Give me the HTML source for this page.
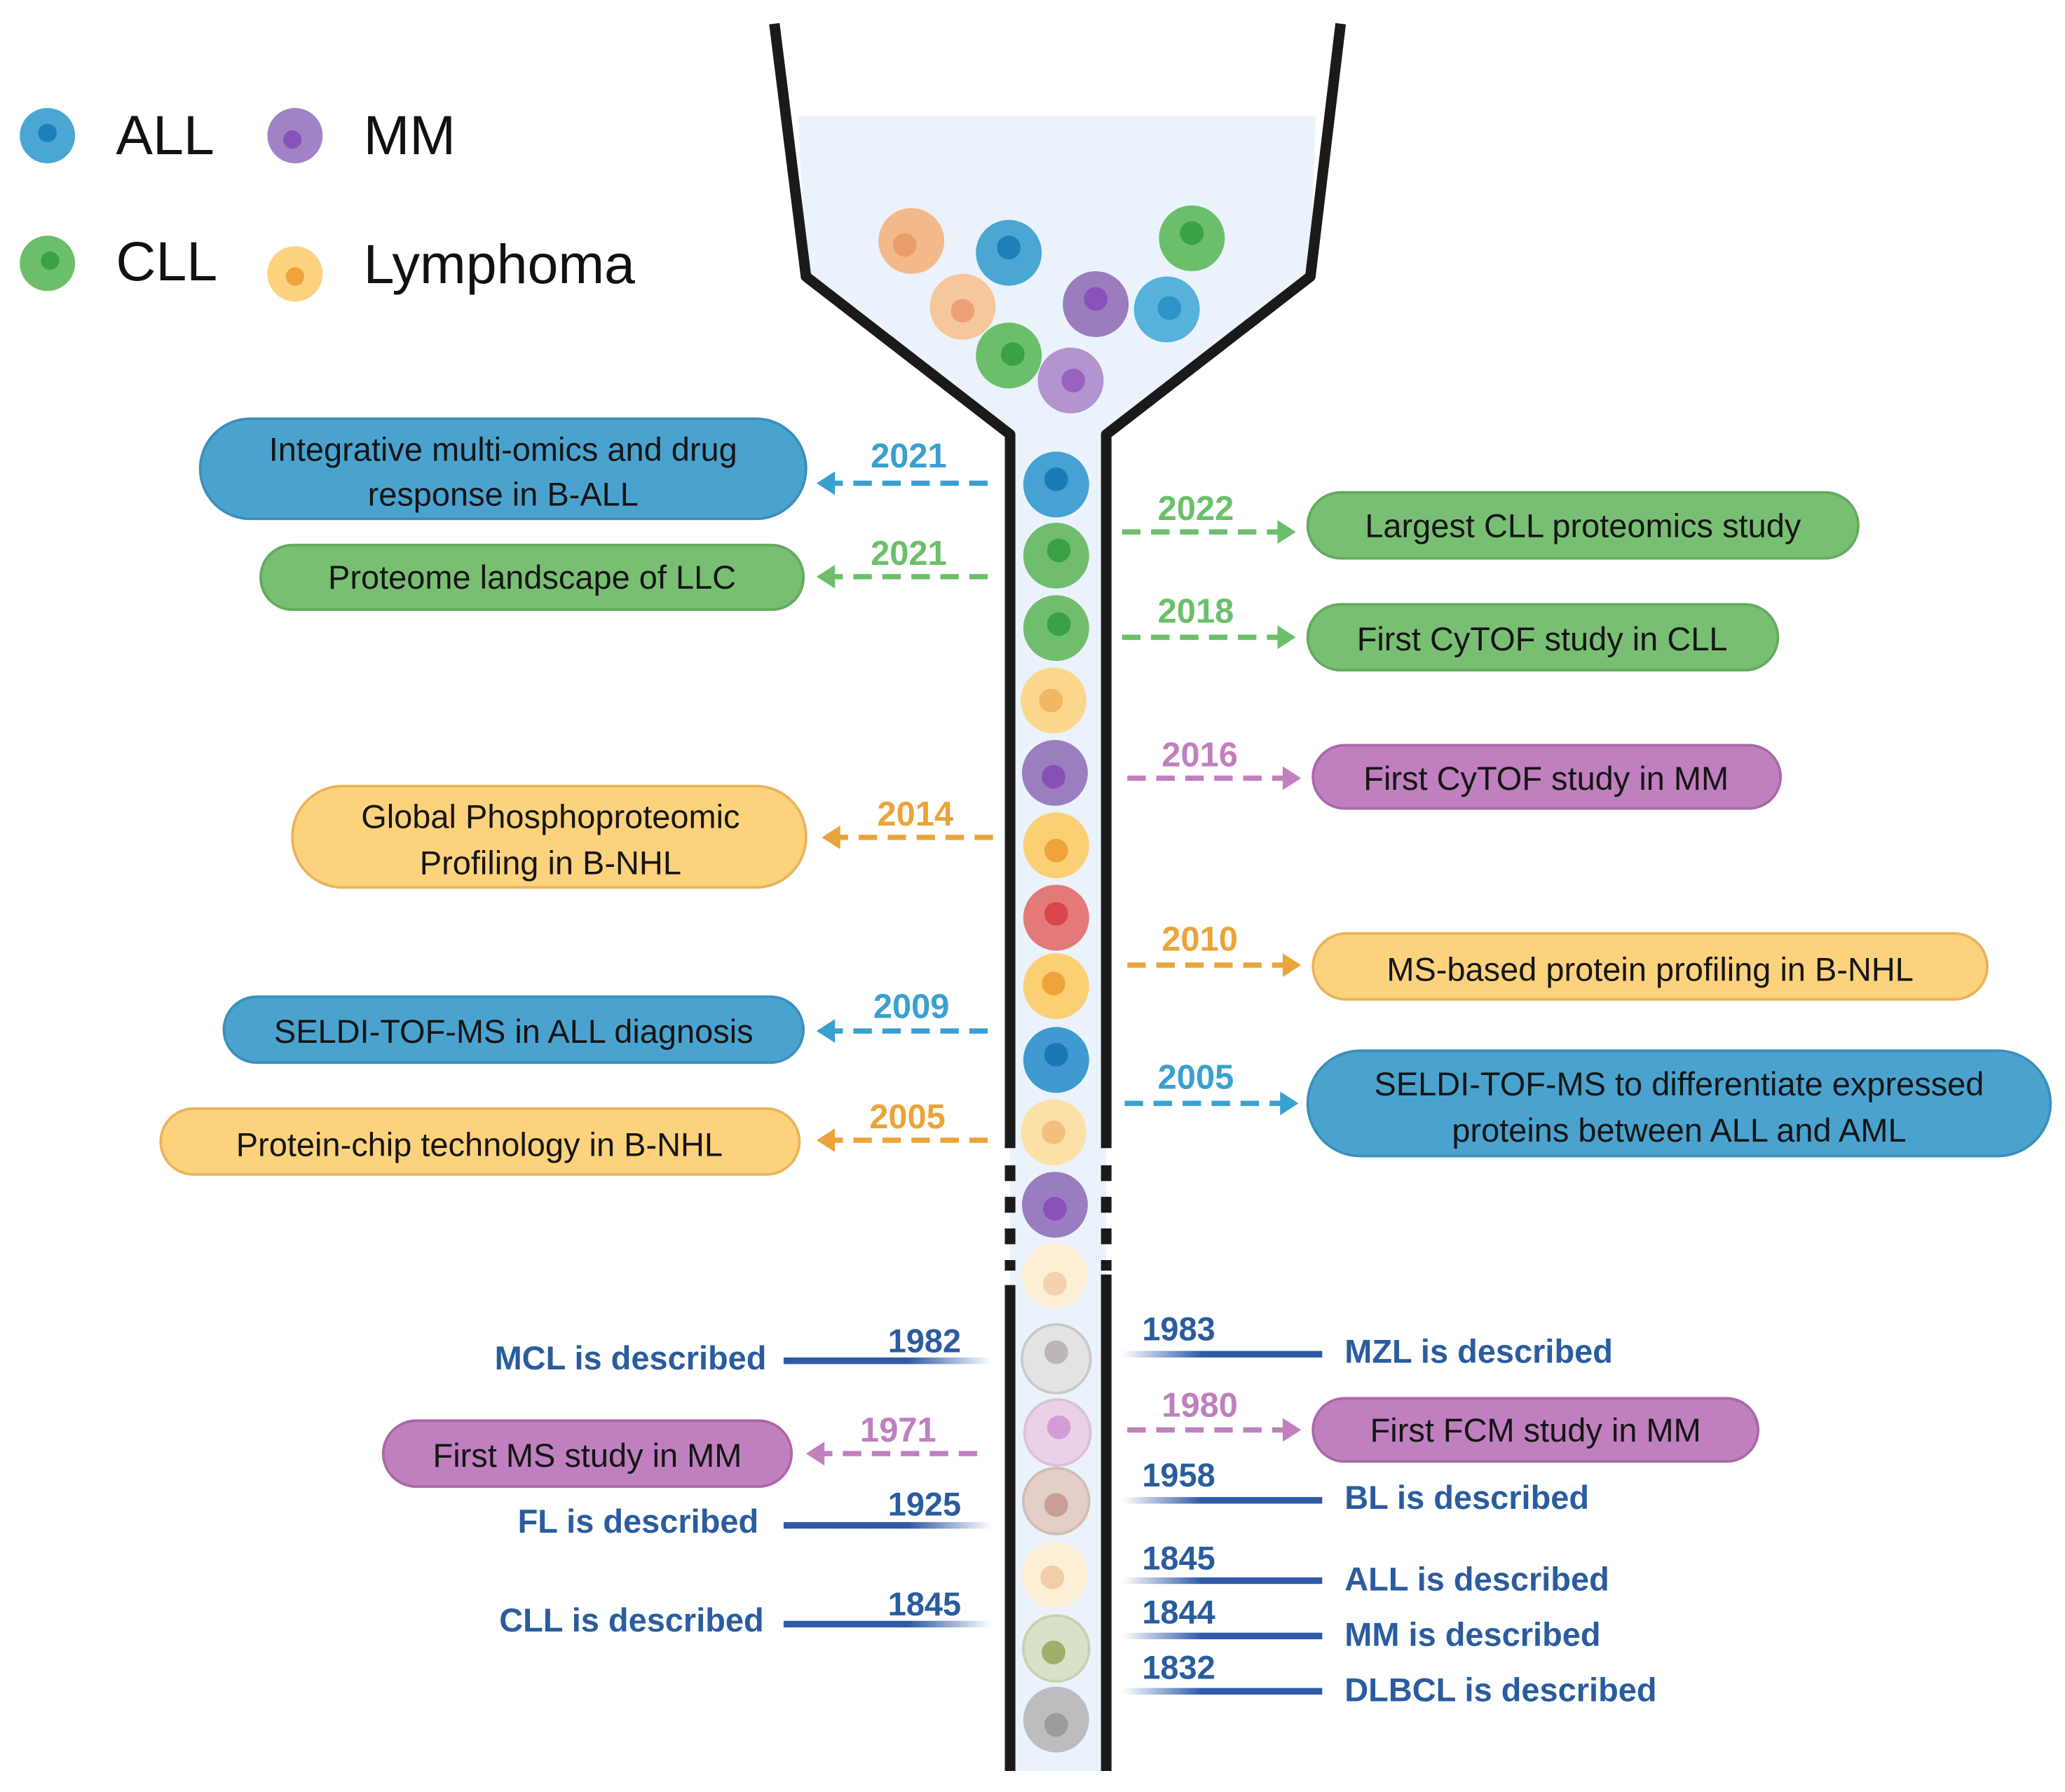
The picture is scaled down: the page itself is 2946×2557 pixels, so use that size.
<!DOCTYPE html>
<html><head><meta charset="utf-8"><style>
html,body{margin:0;padding:0;background:#fff}
svg{display:block}
text{font-family:"Liberation Sans",sans-serif}
.bt{font-size:25px;fill:#151515;text-anchor:middle}
.yr{font-size:26px;font-weight:bold;text-anchor:middle}
.bl{font-size:25px;font-weight:bold;fill:#2a5c9e}
</style></head><body>
<svg width="2946" height="2557" viewBox="0 0 1568 1361" xmlns="http://www.w3.org/2000/svg">
<defs>
<linearGradient id="gl" x1="0" x2="1"><stop offset="0.6" stop-color="#2e5aa8"/><stop offset="1" stop-color="#2e5aa8" stop-opacity="0"/></linearGradient>
<linearGradient id="gr" x1="1" x2="0"><stop offset="0.6" stop-color="#2e5aa8"/><stop offset="1" stop-color="#2e5aa8" stop-opacity="0"/></linearGradient>
</defs>
<!-- funnel fill -->
<path d="M606,88 L999,88 L995,210 L840,330 L840,1345 L767,1345 L767,330 L612,210 Z" fill="#eaf2fb"/>
<!-- funnel walls -->
<g stroke="#1a1a1a" stroke-width="8" fill="none" stroke-linejoin="round">
<path d="M588,18 L612,210 L767,330 L767,872"/>
<path d="M1018,18 L995,210 L840,330 L840,872"/>
<path d="M767,976 L767,1345"/><path d="M840,968 L840,1345"/>
<path d="M767,885 L767,965" stroke-dasharray="12,12"/>
<path d="M840,885 L840,965" stroke-dasharray="12,12"/>
</g>
<!-- cells -->
<g>
<circle cx="692" cy="183" r="25" fill="#f3b98a"/><circle cx="687" cy="186" r="9" fill="#e99e6a"/>
<circle cx="766" cy="192" r="25" fill="#4aa7d4"/><circle cx="766" cy="188" r="9" fill="#1f7fb8"/>
<circle cx="905" cy="181" r="25" fill="#6cbf6a"/><circle cx="905" cy="177" r="9" fill="#3aa244"/>
<circle cx="731" cy="233" r="25" fill="#f6c79a"/><circle cx="731" cy="236" r="9" fill="#eea078"/>
<circle cx="832" cy="231" r="25" fill="#9b7cbf"/><circle cx="832" cy="227" r="9" fill="#8a52b8"/>
<circle cx="886" cy="235" r="25" fill="#56b1db"/><circle cx="888" cy="234" r="9" fill="#2f92c8"/>
<circle cx="766" cy="270" r="25" fill="#6cbf6a"/><circle cx="769" cy="269" r="9" fill="#3aa244"/>
<circle cx="813" cy="289" r="25" fill="#b394cf"/><circle cx="815" cy="289" r="9" fill="#9a62c0"/>
</g>
<g>
<circle cx="802" cy="368" r="25" fill="#45a2d2"/><circle cx="802" cy="364" r="9" fill="#1b7bb6"/>
<circle cx="802" cy="422" r="25" fill="#71bd6e"/><circle cx="804" cy="418" r="9" fill="#3aa244"/>
<circle cx="802" cy="477" r="25" fill="#71bd6e"/><circle cx="804" cy="474" r="9" fill="#3aa244"/>
<circle cx="800" cy="532" r="25" fill="#fbd78e"/><circle cx="798" cy="532" r="9" fill="#f0b661"/>
<circle cx="801" cy="587" r="25" fill="#9b7ebf"/><circle cx="800" cy="590" r="9" fill="#8750b5"/>
<circle cx="802" cy="642" r="25" fill="#fbcf74"/><circle cx="802" cy="646" r="9" fill="#eea43a"/>
<circle cx="802" cy="697" r="25" fill="#e47a77"/><circle cx="802" cy="694" r="9" fill="#d9474a"/>
<circle cx="802" cy="749" r="25" fill="#fbcf74"/><circle cx="800" cy="747" r="9" fill="#eea43a"/>
<circle cx="802" cy="805" r="25" fill="#3f9ad0"/><circle cx="802" cy="801" r="9" fill="#1b78b4"/>
<circle cx="800" cy="860" r="25" fill="#fde0a8"/><circle cx="800" cy="860" r="9" fill="#f1c07a"/>
<circle cx="801" cy="915" r="25" fill="#9a7cc0"/><circle cx="801" cy="918" r="9" fill="#8a52b8"/>
<circle cx="801" cy="969" r="25" fill="#fdeed6"/><circle cx="801" cy="975" r="9" fill="#f3d2b0"/>
<circle cx="802" cy="1032" r="26" fill="#e3e3e3" stroke="#c9c9c9" stroke-width="2"/><circle cx="802" cy="1027" r="9" fill="#bcb6b6"/>
<circle cx="803" cy="1088" r="25" fill="#ead1e6" stroke="#dcc0d8" stroke-width="2"/><circle cx="804" cy="1084" r="9" fill="#d49dd8"/>
<circle cx="802" cy="1140" r="25" fill="#e4cfc8" stroke="#d2bcb3" stroke-width="2"/><circle cx="802" cy="1143" r="9" fill="#c79f96"/>
<circle cx="801" cy="1196" r="25" fill="#fdeed6"/><circle cx="799" cy="1198" r="9" fill="#f1cda8"/>
<circle cx="802" cy="1252" r="25" fill="#d9e2c8" stroke="#c7d1b3" stroke-width="2"/><circle cx="800" cy="1255" r="9" fill="#9db16a"/>
<circle cx="802" cy="1306" r="25" fill="#bdbdbf"/><circle cx="802" cy="1310" r="9" fill="#9b9b9d"/>
</g>
<!-- legend -->
<circle cx="36" cy="103" r="21" fill="#4aa7d4"/><circle cx="36" cy="101" r="7" fill="#1f7fb8"/>
<circle cx="224" cy="103" r="21" fill="#a282c6"/><circle cx="222" cy="106" r="7" fill="#8a52b8"/>
<circle cx="36" cy="200" r="21" fill="#6cbf6a"/><circle cx="38" cy="198" r="7" fill="#3aa244"/>
<circle cx="224" cy="208" r="21" fill="#fdd27c"/><circle cx="224" cy="210" r="7" fill="#eea43a"/>
<g font-size="42" fill="#111"><text x="88" y="117">ALL</text><text x="276" y="117">MM</text><text x="88" y="213">CLL</text><text x="276" y="215">Lymphoma</text></g>
<!-- boxes -->
<g stroke-width="2">
<rect x="152" y="318" width="460" height="76" rx="38" fill="#4aa3cf" stroke="#3b8fbb"/>
<rect x="198" y="414" width="412" height="49" rx="24" fill="#79bf73" stroke="#63ab5d"/>
<rect x="222" y="597" width="390" height="77" rx="38" fill="#fdd27c" stroke="#eab35a"/>
<rect x="170" y="757" width="440" height="50" rx="25" fill="#4aa3cf" stroke="#3b8fbb"/>
<rect x="122" y="842" width="485" height="50" rx="25" fill="#fdd27c" stroke="#eab35a"/>
<rect x="291" y="1079" width="310" height="50" rx="25" fill="#c07fbf" stroke="#a968a8"/>
<rect x="993" y="374" width="418" height="50" rx="25" fill="#79bf73" stroke="#63ab5d"/>
<rect x="993" y="459" width="357" height="50" rx="25" fill="#79bf73" stroke="#63ab5d"/>
<rect x="997" y="566" width="355" height="48" rx="24" fill="#c07fbf" stroke="#a968a8"/>
<rect x="997" y="709" width="512" height="50" rx="25" fill="#fdd27c" stroke="#eab35a"/>
<rect x="993" y="798" width="564" height="80" rx="40" fill="#4aa3cf" stroke="#3b8fbb"/>
<rect x="997" y="1062" width="338" height="48" rx="24" fill="#c07fbf" stroke="#a968a8"/>
</g>
<text class="bt" x="382" y="350">Integrative multi-omics and drug</text>
<text class="bt" x="382" y="384">response in B-ALL</text>
<text class="bt" x="404" y="447">Proteome landscape of LLC</text>
<text class="bt" x="418" y="629">Global Phosphoproteomic</text>
<text class="bt" x="418" y="664">Profiling in B-NHL</text>
<text class="bt" x="390" y="792">SELDI-TOF-MS in ALL diagnosis</text>
<text class="bt" x="364" y="878">Protein-chip technology in B-NHL</text>
<text class="bt" x="446" y="1114">First MS study in MM</text>
<text class="bt" x="1202" y="408">Largest CLL proteomics study</text>
<text class="bt" x="1171" y="494">First CyTOF study in CLL</text>
<text class="bt" x="1174" y="600">First CyTOF study in MM</text>
<text class="bt" x="1253" y="745">MS-based protein profiling in B-NHL</text>
<text class="bt" x="1275" y="832">SELDI-TOF-MS to differentiate expressed</text>
<text class="bt" x="1275" y="867">proteins between ALL and AML</text>
<text class="bt" x="1166" y="1095">First FCM study in MM</text>
<!-- dashed arrows -->
<g stroke-width="4" stroke-dasharray="14,8" fill="none">
<path d="M750,367 L632,367" stroke="#3aa0d0"/>
<path d="M750,438 L632,438" stroke="#6cbf6a"/>
<path d="M754,636 L636,636" stroke="#eba43a"/>
<path d="M750,783 L632,783" stroke="#3aa0d0"/>
<path d="M750,866 L632,866" stroke="#eba43a"/>
<path d="M742,1104 L624,1104" stroke="#c07fbf"/>
<path d="M852,404 L972,404" stroke="#6cbf6a"/>
<path d="M852,484 L972,484" stroke="#6cbf6a"/>
<path d="M856,591 L976,591" stroke="#c07fbf"/>
<path d="M856,733 L976,733" stroke="#eba43a"/>
<path d="M854,838 L974,838" stroke="#3aa0d0"/>
<path d="M856,1086 L976,1086" stroke="#c07fbf"/>
</g>
<g>
<path d="M620,367 l14,-9 v18 z" fill="#3aa0d0"/>
<path d="M620,438 l14,-9 v18 z" fill="#6cbf6a"/>
<path d="M624,636 l14,-9 v18 z" fill="#eba43a"/>
<path d="M620,783 l14,-9 v18 z" fill="#3aa0d0"/>
<path d="M620,866 l14,-9 v18 z" fill="#eba43a"/>
<path d="M612,1104 l14,-9 v18 z" fill="#c07fbf"/>
<path d="M984,404 l-14,-9 v18 z" fill="#6cbf6a"/>
<path d="M984,484 l-14,-9 v18 z" fill="#6cbf6a"/>
<path d="M988,591 l-14,-9 v18 z" fill="#c07fbf"/>
<path d="M988,733 l-14,-9 v18 z" fill="#eba43a"/>
<path d="M986,838 l-14,-9 v18 z" fill="#3aa0d0"/>
<path d="M988,1086 l-14,-9 v18 z" fill="#c07fbf"/>
</g>
<text class="yr" x="690" y="355" fill="#3aa0d0">2021</text>
<text class="yr" x="690" y="429" fill="#6cbf6a">2021</text>
<text class="yr" x="695" y="627" fill="#eba43a">2014</text>
<text class="yr" x="692" y="773" fill="#3aa0d0">2009</text>
<text class="yr" x="689" y="857" fill="#eba43a">2005</text>
<text class="yr" x="682" y="1095" fill="#c07fbf">1971</text>
<text class="yr" x="908" y="395" fill="#6cbf6a">2022</text>
<text class="yr" x="908" y="473" fill="#6cbf6a">2018</text>
<text class="yr" x="911" y="582" fill="#c07fbf">2016</text>
<text class="yr" x="911" y="722" fill="#eba43a">2010</text>
<text class="yr" x="908" y="827" fill="#3aa0d0">2005</text>
<text class="yr" x="911" y="1076" fill="#c07fbf">1980</text>
<!-- blue description lines -->
<g>
<rect x="595" y="1031" width="158" height="5" fill="url(#gl)"/>
<rect x="595" y="1156" width="158" height="5" fill="url(#gl)"/>
<rect x="595" y="1231" width="158" height="5" fill="url(#gl)"/>
<rect x="852" y="1026" width="152" height="5" fill="url(#gr)"/>
<rect x="852" y="1137" width="152" height="5" fill="url(#gr)"/>
<rect x="852" y="1198" width="152" height="5" fill="url(#gr)"/>
<rect x="852" y="1240" width="152" height="5" fill="url(#gr)"/>
<rect x="852" y="1282" width="152" height="5" fill="url(#gr)"/>
</g>
<g class="bl">
<text x="582" y="1040" text-anchor="end" class="bl">MCL is described</text>
<text x="576" y="1164" text-anchor="end" class="bl">FL is described</text>
<text x="580" y="1239" text-anchor="end" class="bl">CLL is described</text>
<text x="1021" y="1035" class="bl">MZL is described</text>
<text x="1021" y="1146" class="bl">BL is described</text>
<text x="1021" y="1208" class="bl">ALL is described</text>
<text x="1021" y="1250" class="bl">MM is described</text>
<text x="1021" y="1292" class="bl">DLBCL is described</text>
<text x="702" y="1027" text-anchor="middle" class="bl">1982</text>
<text x="702" y="1151" text-anchor="middle" class="bl">1925</text>
<text x="702" y="1227" text-anchor="middle" class="bl">1845</text>
<text x="895" y="1018" text-anchor="middle" class="bl">1983</text>
<text x="895" y="1129" text-anchor="middle" class="bl">1958</text>
<text x="895" y="1192" text-anchor="middle" class="bl">1845</text>
<text x="895" y="1233" text-anchor="middle" class="bl">1844</text>
<text x="895" y="1275" text-anchor="middle" class="bl">1832</text>
</g>
</svg>
</body></html>
